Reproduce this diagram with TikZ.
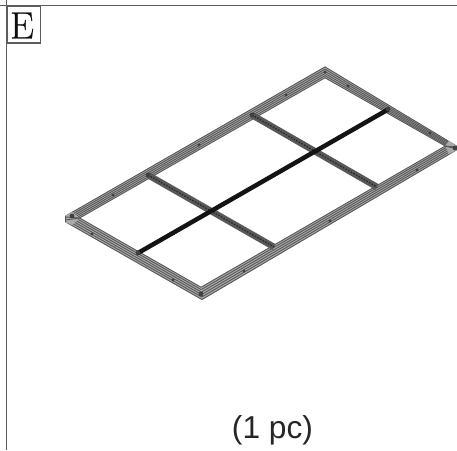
\documentclass[tikz,border=0pt]{standalone}
\usepackage{fontspec}
\setsansfont{Liberation Sans}
\newfontfamily\letterfont[FakeBold=0.4]{Latin Modern Roman}
\usetikzlibrary{calc}
\definecolor{rule}{HTML}{5C5C5C}
\definecolor{barbase}{HTML}{ABABAB}
\definecolor{barline}{HTML}{585858}
\tikzset{
  rulestroke/.style={draw=rule,line width=1.8pt},
  hatch/.style={draw=barline,line width=.9pt},
  bolt/.style={fill=black!75,draw=none},
  tick/.style={fill=black!55,draw=none}
}
% quad band: outer A--B, inner C--D, hatch lines between them
\newcommand{\hband}[4]{%
  \fill[barbase] #1 -- #2 -- #4 -- #3 -- cycle;
  \foreach \t in {0.04,0.23,0.42,0.61,0.8,0.98}{
    \draw[hatch] ($#1!\t!#3$) -- ($#2!\t!#4$);
  }
}
\begin{document}
\begin{tikzpicture}[x=1pt,y=-1pt]
\useasboundingbox (0,0) rectangle (457,450);
\fill[white] (0,0) rectangle (457,450);
\draw[rulestroke] (0,5.5) -- (457,5.5);
\draw[rulestroke] (6.5,0) -- (6.5,450);
\draw[draw=rule,line width=1.1pt,fill=white] (7.5,6.5) rectangle (40.5,43);
\node[inner sep=0pt,font=\letterfont\fontsize{38}{38}\selectfont,text=black!95] (letter) at (22,25.5) {E};
% frame
\hband{(65,222)}{(202,300)}{(80,218)}{(201,287)}
\hband{(457,150)}{(202,300)}{(445,146)}{(201,287)}
\hband{(65,216)}{(325,66.5)}{(80,218)}{(325,78)}
\hband{(325,66.5)}{(457,146)}{(325,78)}{(445,146)}
\fill[barbase] (65,216) -- (65,222) -- (72,225) -- (80,218) -- (72,212) -- cycle;
\fill[barbase] (457,146) -- (457,150) -- (449,154) -- (445,146) -- (449,141) -- cycle;
\draw[hatch] (65,216) -- (65,222);
\draw[hatch] (65,217) -- (80,218);
\draw[hatch] (65,220) -- (80,218);
\draw[hatch] (457,147) -- (445,146);
\draw[hatch] (457,149) -- (445,146);
% cross bars
\draw[barline,line width=6.5pt] (148,175) -- (274,247);
\draw[barline,line width=6.5pt] (252,115) -- (377,187);
\draw[black!85,line width=1.2pt,dash pattern=on 1.5pt off 1.5pt] (148,175) -- (274,247);
\draw[black!85,line width=1.2pt,dash pattern=on 1.5pt off 1.5pt] (252,115) -- (377,187);
\draw[black!92,line width=4.5pt] (138,253) -- (388,109.5);
% bolts
\foreach \p in {(113,195),(199,145),(286,95),(348,86),(430,133),(417,170),(330,221),(244,271),(92,234),(173,280),(325,72)}
  \fill[bolt] \p circle (1.7);
\foreach \p in {(148,175),(252,115),(388,109),(138,253),(201,294),(455,148),(72,216)}
  \fill[bolt] \p circle (2.4);
\foreach \p in {(123,189),(165,165),(212,138),(272,103),(308,83),(364,96),(398,115),(437,158),(388,185),(350,207),(304,235),(258,262),(222,282),(115,247),(147,266),(86,231)}
  \fill[tick] \p circle (.9);
\node[font=\sffamily\fontsize{31.7}{32}\selectfont,inner sep=0pt,text=black!85,anchor=base] (qty) at (272.5,438) {(1 pc)};
\end{tikzpicture}
\end{document}
